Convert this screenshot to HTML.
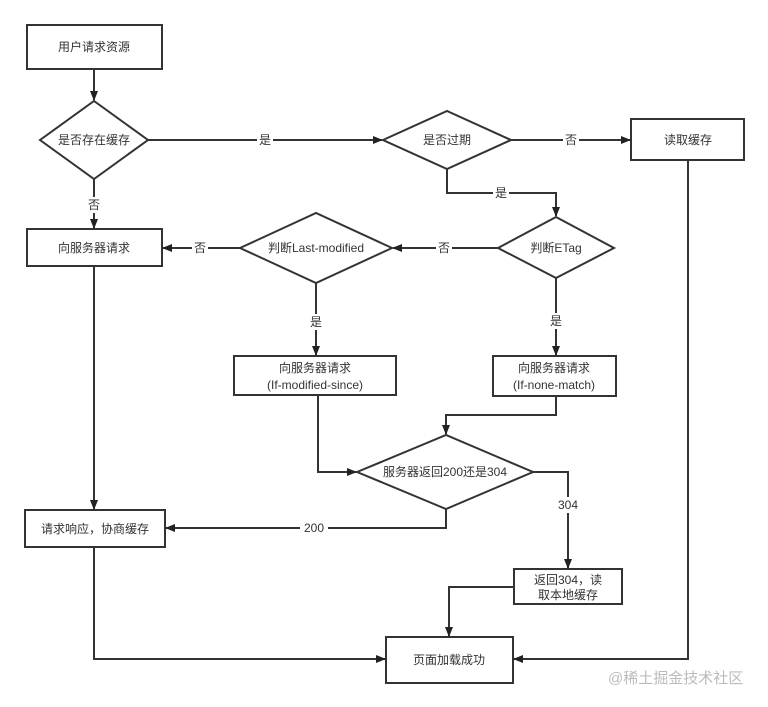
<!DOCTYPE html>
<html><head><meta charset="utf-8"><style>
html,body{margin:0;padding:0;background:#fff;}
svg{display:block;}
text{font-family:"Liberation Sans","Noto Sans CJK SC",sans-serif;font-size:12px;fill:#333;}
</style></head><body>
<svg width="768" height="707" viewBox="0 0 768 707" xmlns="http://www.w3.org/2000/svg">
<defs>
<marker id="a" markerWidth="10" markerHeight="10" refX="9" refY="4" orient="auto" markerUnits="userSpaceOnUse">
<path d="M0,0 L10,4 L0,8 z" fill="#222"/></marker>
</defs>
<g stroke="#333" stroke-width="2" fill="#fff">
<rect x="27" y="25" width="135" height="44"/>
<polygon points="40,140 94,101 148,140 94,179"/>
<polygon points="383,140 447,111 511,140 447,169"/>
<rect x="631" y="119" width="113" height="41"/>
<polygon points="498,248 556,217 614,248 556,278"/>
<polygon points="240,248 316,213 392,248 316,283"/>
<rect x="27" y="229" width="135" height="37"/>
<rect x="234" y="356" width="162" height="39"/>
<rect x="493" y="356" width="123" height="40"/>
<polygon points="357,472 446,435 533,472 446,509"/>
<rect x="25" y="510" width="140" height="37"/>
<rect x="514" y="569" width="108" height="35"/>
<rect x="386" y="637" width="127" height="46"/>
</g>
<g stroke="#333" stroke-width="2" fill="none" marker-end="url(#a)">
<path d="M94,69 V100"/>
<path d="M148,140 H382"/>
<path d="M511,140 H630"/>
<path d="M447,169 V193 H556 V216"/>
<path d="M498,248 H393"/>
<path d="M240,248 H163"/>
<path d="M94,179 V228"/>
<path d="M316,283 V355"/>
<path d="M556,278 V355"/>
<path d="M556,396 V415 H446 V434"/>
<path d="M318,395 V472 H356"/>
<path d="M533,472 H568 V568"/>
<path d="M446,509 V528 H166"/>
<path d="M94,266 V509"/>
<path d="M94,547 V659 H385"/>
<path d="M514,587 H449 V636"/>
<path d="M688,160 V659 H514"/>
</g>
<g fill="#fff">
<rect x="257" y="132" width="16" height="16"/>
<rect x="563" y="132" width="16" height="16"/>
<rect x="493" y="185" width="16" height="16"/>
<rect x="436" y="240" width="16" height="16"/>
<rect x="192" y="240" width="16" height="16"/>
<rect x="86" y="197" width="16" height="16"/>
<rect x="308" y="314" width="16" height="16"/>
<rect x="548" y="313" width="16" height="16"/>
<rect x="556" y="497" width="24" height="16"/>
<rect x="300" y="520" width="28" height="16"/>
</g>
<g text-anchor="middle">
<text x="94" y="51">用户请求资源</text>
<text x="94" y="144">是否存在缓存</text>
<text x="447" y="144">是否过期</text>
<text x="688" y="144">读取缓存</text>
<text x="556" y="252">判断ETag</text>
<text x="316" y="252">判断Last-modified</text>
<text x="94" y="252">向服务器请求</text>
<text x="315" y="372">向服务器请求</text>
<text x="315" y="389">(If-modified-since)</text>
<text x="554" y="372">向服务器请求</text>
<text x="554" y="389">(If-none-match)</text>
<text x="445" y="476">服务器返回200还是304</text>
<text x="95" y="533">请求响应，协商缓存</text>
<text x="568" y="584">返回304，读</text>
<text x="568" y="599">取本地缓存</text>
<text x="449" y="664">页面加载成功</text>
<text x="265" y="144">是</text>
<text x="571" y="144">否</text>
<text x="501" y="197">是</text>
<text x="444" y="252">否</text>
<text x="200" y="252">否</text>
<text x="94" y="209">否</text>
<text x="316" y="326">是</text>
<text x="556" y="325">是</text>
<text x="568" y="509">304</text>
<text x="314" y="532">200</text>
</g>
<text x="608" y="683" style="font-size:15px;fill:#bbb;">@稀土掘金技术社区</text>
</svg>
</body></html>
